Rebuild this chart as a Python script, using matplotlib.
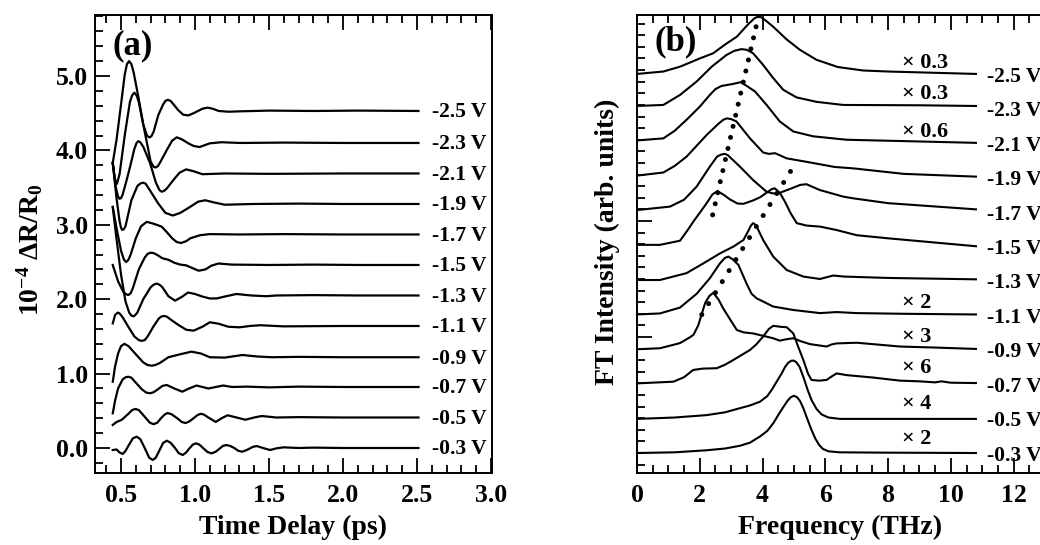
"""Time-domain reflectivity traces and their FT spectra at several bias voltages."""

import matplotlib

matplotlib.use("Agg")
import matplotlib.pyplot as plt
from matplotlib.ticker import FixedLocator, MultipleLocator, FormatStrFormatter

plt.rcParams["font.family"] = ["Liberation Serif", "DejaVu Serif"]
plt.rcParams["font.weight"] = "bold"
plt.rcParams["mathtext.fontset"] = "custom"
plt.rcParams["mathtext.rm"] = "Liberation Serif:bold"
plt.rcParams["mathtext.it"] = "Liberation Serif:bold"
plt.rcParams["mathtext.bf"] = "Liberation Serif:bold"

# ---- panel (a): dR/R traces, offset per bias ----
bias_labels = ["-2.5 V", "-2.3 V", "-2.1 V", "-1.9 V", "-1.7 V", "-1.5 V",
               "-1.3 V", "-1.1 V", "-0.9 V", "-0.7 V", "-0.5 V", "-0.3 V"]
time_levels = [4.53, 4.10, 3.69, 3.28, 2.87, 2.46, 2.05, 1.64, 1.22, 0.82, 0.41, 0.0]

t_25 = [0.444, 0.47, 0.50, 0.525, 0.54, 0.554, 0.57, 0.585, 0.617, 0.65, 0.675, 0.69, 0.705, 0.72,
        0.752, 0.785, 0.80, 0.817, 0.835, 0.85, 0.887, 0.92, 0.955, 0.99, 1.02, 1.05, 1.085, 1.12,
        1.16, 1.225, 1.3, 1.5, 1.8, 2.1, 2.51]
r_25 = [3.83, 4.15, 4.62, 5.02, 5.16, 5.20, 5.16, 5.05, 4.72, 4.35, 4.20, 4.175, 4.19, 4.25,
        4.476, 4.62, 4.665, 4.68, 4.665, 4.63, 4.54, 4.48, 4.47, 4.50, 4.53, 4.56, 4.575, 4.56,
        4.53, 4.52, 4.525, 4.535, 4.53, 4.535, 4.53]
t_23 = [0.444, 0.458, 0.472, 0.49, 0.51, 0.527, 0.56, 0.575, 0.59, 0.605, 0.62, 0.662, 0.70,
        0.72, 0.734, 0.75, 0.77, 0.809, 0.845, 0.876, 0.91, 0.955, 0.99, 1.03, 1.065, 1.10, 1.18,
        1.3, 1.6, 2.0, 2.51]
r_23 = [3.83, 3.62, 3.55, 3.68, 3.98, 4.23, 4.65, 4.74, 4.776, 4.74, 4.65, 4.23, 3.85,
        3.78, 3.77, 3.79, 3.86, 4.005, 4.13, 4.176, 4.15, 4.095, 4.06, 4.045, 4.07, 4.095, 4.11,
        4.10, 4.105, 4.10, 4.10]
t_21 = [0.444, 0.465, 0.478, 0.489, 0.50, 0.51, 0.535, 0.561, 0.59, 0.605, 0.617, 0.63, 0.65,
        0.696, 0.735, 0.76, 0.775, 0.79, 0.81, 0.853, 0.895, 0.94, 0.99, 1.05, 1.2, 1.5, 2.0, 2.51]
r_21 = [3.83, 3.50, 3.39, 3.35, 3.36, 3.40, 3.58, 3.78, 4.02, 4.10, 4.125, 4.11, 4.05,
        3.83, 3.57, 3.465, 3.445, 3.455, 3.49, 3.60, 3.70, 3.745, 3.72, 3.68, 3.69, 3.685, 3.69,
        3.69]
t_19 = [0.444, 0.47, 0.49, 0.50, 0.508, 0.518, 0.53, 0.57, 0.61, 0.63, 0.648, 0.665, 0.69, 0.75,
        0.80, 0.85, 0.90, 0.966, 1.02, 1.068, 1.13, 1.2, 1.4, 1.7, 2.0, 2.51]
r_19 = [3.83, 3.35, 3.05, 2.96, 2.93, 2.94, 2.98, 3.33, 3.52, 3.555, 3.566, 3.555, 3.48, 3.29,
        3.16, 3.125, 3.16, 3.24, 3.31, 3.33, 3.30, 3.27, 3.28, 3.285, 3.28, 3.28]
t_17 = [0.444, 0.47, 0.50, 0.52, 0.535, 0.55, 0.565, 0.60, 0.635, 0.674, 0.71, 0.741, 0.775,
        0.81, 0.845, 0.875, 0.905, 0.94, 0.97, 1.034, 1.1, 1.3, 1.6, 2.0, 2.51]
r_17 = [3.24, 2.95, 2.65, 2.53, 2.50, 2.53, 2.60, 2.82, 2.98, 3.04, 3.02, 3.0, 2.975,
        2.90, 2.82, 2.77, 2.755, 2.78, 2.82, 2.86, 2.875, 2.87, 2.875, 2.87, 2.87]
t_15 = [0.444, 0.48, 0.515, 0.535, 0.549, 0.565, 0.58, 0.62, 0.66, 0.68, 0.70, 0.72, 0.74, 0.78,
        0.82, 0.86, 0.90, 0.94, 0.98, 1.025, 1.07, 1.11, 1.158, 1.25, 1.5, 1.8, 2.1, 2.51]
r_15 = [2.46, 2.24, 2.10, 2.065, 2.056, 2.08, 2.15, 2.40, 2.56, 2.61, 2.625, 2.62, 2.60, 2.55,
        2.53, 2.49, 2.465, 2.455, 2.42, 2.383, 2.40, 2.45, 2.48, 2.465, 2.46, 2.465, 2.46, 2.46]
t_13 = [0.444, 0.47, 0.50, 0.53, 0.555, 0.57, 0.583, 0.595, 0.61, 0.65, 0.70, 0.72, 0.741, 0.76,
        0.78, 0.82, 0.865, 0.91, 0.953, 1.0, 1.05, 1.10, 1.146, 1.21, 1.28, 1.38, 1.48, 1.55, 1.8,
        2.1, 2.51]
r_13 = [3.24, 2.80, 2.33, 1.97, 1.82, 1.78, 1.77, 1.785, 1.82, 2.00, 2.16, 2.195, 2.21, 2.195,
        2.16, 2.04, 1.98, 2.03, 2.09, 2.07, 2.035, 2.01, 2.01, 2.04, 2.07, 2.05, 2.04, 2.05, 2.055,
        2.05, 2.05]
t_11 = [0.444, 0.46, 0.478, 0.49, 0.51, 0.549, 0.59, 0.62, 0.64, 0.66, 0.68, 0.718, 0.755,
        0.775, 0.793, 0.81, 0.84, 0.887, 0.94, 0.99, 1.05, 1.10, 1.16, 1.225, 1.30, 1.37, 1.44,
        1.6, 2.0, 2.51]
r_11 = [1.675, 1.79, 1.82, 1.81, 1.76, 1.63, 1.50, 1.45, 1.44, 1.45, 1.50, 1.63, 1.74,
        1.77, 1.774, 1.765, 1.72, 1.655, 1.59, 1.577, 1.63, 1.69, 1.67, 1.63, 1.622, 1.64, 1.65,
        1.635, 1.64, 1.64]
t_09 = [0.444, 0.46, 0.48, 0.50, 0.523, 0.55, 0.60, 0.65, 0.68, 0.707, 0.73, 0.76, 0.82, 0.90,
        0.976, 1.04, 1.1, 1.2, 1.32, 1.42, 1.52, 1.7, 2.0, 2.3, 2.51]
r_09 = [0.89, 1.10, 1.27, 1.37, 1.40, 1.37, 1.26, 1.15, 1.115, 1.106, 1.115, 1.14, 1.22, 1.26,
        1.295, 1.27, 1.22, 1.215, 1.25, 1.23, 1.22, 1.225, 1.22, 1.22, 1.22]
t_07 = [0.444, 0.46, 0.48, 0.51, 0.53, 0.549, 0.57, 0.59, 0.64, 0.67, 0.696, 0.72, 0.75, 0.78,
        0.809, 0.86, 0.914, 0.96, 1.01, 1.05, 1.09, 1.14, 1.19, 1.25, 1.35, 1.5, 1.7, 2.0, 2.51]
r_07 = [0.466, 0.64, 0.80, 0.92, 0.95, 0.958, 0.945, 0.90, 0.79, 0.745, 0.735, 0.75, 0.79, 0.835,
        0.847, 0.80, 0.757, 0.80, 0.84, 0.82, 0.80, 0.82, 0.84, 0.82, 0.825, 0.815, 0.825, 0.82,
        0.82]
t_05 = [0.444, 0.47, 0.504, 0.55, 0.575, 0.597, 0.62, 0.66, 0.695, 0.72, 0.745, 0.77, 0.795,
        0.815, 0.84, 0.88, 0.91, 0.935, 0.96, 0.99, 1.015, 1.037, 1.06, 1.09, 1.14, 1.18, 1.22,
        1.28, 1.34, 1.40, 1.45, 1.55, 1.7, 2.0, 2.51]
r_05 = [0.31, 0.35, 0.378, 0.46, 0.51, 0.525, 0.51, 0.42, 0.34, 0.32, 0.34, 0.40, 0.45,
        0.47, 0.455, 0.40, 0.35, 0.335, 0.355, 0.40, 0.44, 0.46, 0.45, 0.41, 0.35, 0.40, 0.44,
        0.41, 0.38, 0.41, 0.43, 0.41, 0.415, 0.41, 0.41]
t_03 = [0.444, 0.47, 0.49, 0.511, 0.53, 0.55, 0.58, 0.606, 0.63, 0.66, 0.69, 0.714, 0.735, 0.76,
        0.785, 0.81, 0.835, 0.865, 0.89, 0.917, 0.94, 0.96, 0.985, 1.007, 1.03, 1.06, 1.085,
        1.113, 1.14, 1.165, 1.19, 1.214, 1.24, 1.265, 1.29, 1.316, 1.34, 1.367, 1.39, 1.417,
        1.46, 1.507, 1.55, 1.597, 1.7, 1.8, 2.0, 2.2, 2.51]
r_03 = [-0.027, -0.02, -0.06, -0.08, -0.04, 0.03, 0.13, 0.152, 0.12, 0.0, -0.13, -0.161, -0.13,
        -0.03, 0.07, 0.098, 0.07, 0.0, -0.07, -0.094, -0.06, -0.01, 0.045, 0.063, 0.045, -0.01,
        -0.055, -0.072, -0.05, -0.01, 0.03, 0.04, 0.025, 0.0, -0.035, -0.05, -0.035, -0.01,
        0.015, 0.026, 0.0, -0.027, -0.005, 0.009, 0.0, 0.005, 0.0, 0.0, 0.0]

# ---- panel (b): FT spectra, offset by one unit per bias ----
spec_levels = [11, 10, 9, 8, 7, 6, 5, 4, 3, 2, 1, 0]
scale_labels = ["× 0.3", "× 0.3", "× 0.6", "", "", "", "", "× 2", "× 3", "× 6", "× 4", "× 2"]
scale_levels = [11.32, 10.42, 9.32, None, None, None, None, 4.35, 3.37, 2.47, 1.42, 0.41]

f_25 = [0.0, 0.84, 1.37, 2.0, 2.43, 2.8, 3.18, 3.55, 3.75, 3.9, 4.1, 4.34, 4.77, 5.19, 5.72,
        6.4, 7.2, 8.0, 10.8]
s_25 = [11.0, 11.07, 11.21, 11.45, 11.6, 11.85, 12.08, 12.45, 12.62, 12.68, 12.55, 12.37, 12.0,
        11.70, 11.41, 11.2, 11.1, 11.07, 11.0]
f_23 = [0.0, 0.84, 1.37, 1.9, 2.38, 2.85, 3.1, 3.33, 3.5, 3.7, 4.02, 4.34, 4.66, 5.08, 5.72,
        6.57, 9.0, 10.8]
s_23 = [10.07, 10.1, 10.39, 10.78, 11.21, 11.55, 11.67, 11.72, 11.7, 11.6, 11.26, 10.88, 10.54,
        10.32, 10.19, 10.1, 10.09, 10.07]
f_21 = [0.0, 0.84, 1.2, 1.58, 2.0, 2.32, 2.5, 2.69, 3.06, 3.3, 3.5, 3.76, 4.13, 4.55, 4.98,
        5.61, 6.68, 9.0, 10.8]
s_21 = [9.07, 9.13, 9.35, 9.67, 10.05, 10.39, 10.56, 10.65, 10.71, 10.76, 10.65, 10.49, 10.10,
        9.62, 9.33, 9.19, 9.09, 9.04, 9.0]
f_19 = [0.0, 0.84, 1.2, 1.58, 2.22, 2.59, 2.75, 2.86, 3.0, 3.17, 3.6, 4.02, 4.2, 4.4, 4.77, 5.4,
        6.3, 6.89, 8.5, 10.8]
s_19 = [8.05, 8.14, 8.33, 8.6, 9.23, 9.55, 9.67, 9.71, 9.69, 9.62, 9.13, 8.72, 8.68, 8.7, 8.55,
        8.45, 8.3, 8.26, 8.1, 8.02]
f_17 = [0.0, 1.05, 1.5, 1.9, 2.32, 2.55, 2.68, 2.8, 2.9, 3.0, 3.28, 3.7, 4.13, 4.35, 4.55, 4.98,
        5.2, 5.4, 5.6, 5.83, 6.57, 6.89, 8.0, 10.8]
s_17 = [7.05, 7.15, 7.35, 7.73, 8.31, 8.6, 8.66, 8.68, 8.64, 8.55, 8.31, 7.92, 7.58, 7.53, 7.55,
        7.7, 7.78, 7.8, 7.72, 7.63, 7.44, 7.39, 7.25, 7.07]
f_15 = [0.0, 0.73, 1.37, 1.6, 1.8, 2.22, 2.4, 2.56, 2.75, 2.96, 3.2, 3.39, 3.7, 3.92, 4.2, 4.3,
        4.39, 4.55, 4.71, 4.9, 5.09, 5.4, 5.83, 6.36, 7.0, 8.0, 10.8]
s_15 = [6.04, 6.04, 6.16, 6.45, 6.72, 7.25, 7.5, 7.6, 7.5, 7.36, 7.24, 7.23, 7.33, 7.42, 7.6,
        7.66, 7.68, 7.55, 7.3, 6.95, 6.67, 6.6, 6.57, 6.47, 6.32, 6.23, 6.0]
f_13 = [0.0, 0.73, 1.58, 2.11, 2.64, 3.07, 3.39, 3.55, 3.63, 3.7, 3.78, 3.85, 4.02, 4.34, 4.77,
        5.3, 5.83, 6.25, 6.6, 8.0, 10.8]
s_13 = [5.02, 5.02, 5.22, 5.5, 5.79, 5.99, 6.18, 6.45, 6.6, 6.67, 6.62, 6.5, 6.18, 5.70, 5.31,
        5.12, 5.05, 5.15, 5.12, 5.08, 5.04]
f_11 = [0.0, 0.73, 1.37, 1.9, 2.32, 2.64, 2.8, 2.91, 3.05, 3.23, 3.49, 3.65, 3.81, 4.34, 4.98,
        5.83, 6.36, 7.0, 8.5, 10.8]
s_11 = [4.02, 4.05, 4.22, 4.62, 5.07, 5.50, 5.66, 5.70, 5.62, 5.46, 4.92, 4.62, 4.49, 4.25, 4.15,
        4.06, 4.09, 4.06, 4.04, 4.02]
f_09 = [0.0, 0.73, 1.16, 1.37, 1.69, 1.8, 1.95, 2.17, 2.3, 2.43, 2.6, 2.75, 2.95, 3.18, 3.4, 3.7,
        4.02, 4.34, 4.55, 4.75, 4.98, 5.2, 5.51, 6.04, 6.2, 6.36, 7.0, 8.38, 9.5, 10.8]
s_09 = [3.01, 3.04, 3.14, 3.19, 3.36, 3.43, 3.7, 4.35, 4.55, 4.65, 4.45, 4.19, 3.9, 3.57, 3.5,
        3.47, 3.4, 3.33, 3.26, 3.3, 3.33, 3.25, 3.16, 3.09, 3.15, 3.18, 3.2, 3.09, 3.06, 3.02]
f_07 = [0.0, 1.16, 1.5, 1.79, 2.1, 2.54, 2.8, 3.07, 3.6, 3.8, 4.02, 4.2, 4.34, 4.6, 4.77, 4.98,
        5.15, 5.3, 5.45, 5.56, 5.8, 6.04, 6.2, 6.36, 6.68, 7.52, 8.38, 9.0, 9.5, 9.7, 10.0, 10.8]
s_07 = [2.02, 2.07, 2.2, 2.41, 2.45, 2.46, 2.56, 2.70, 2.99, 3.15, 3.38, 3.6, 3.69, 3.66, 3.65,
        3.47, 3.05, 2.70, 2.3, 2.12, 2.10, 2.12, 2.22, 2.31, 2.26, 2.19, 2.10, 2.08, 2.05, 2.08,
        2.04, 2.03]
f_05 = [0.0, 1.2, 2.22, 2.8, 3.28, 3.6, 3.92, 4.15, 4.29, 4.45, 4.61, 4.72, 4.82, 4.92, 5.0,
        5.08, 5.18, 5.3, 5.43, 5.56, 5.72, 5.88, 6.1, 6.46, 10.8]
s_05 = [0.99, 1.03, 1.10, 1.18, 1.30, 1.38, 1.49, 1.65, 1.83, 2.07, 2.31, 2.5, 2.62, 2.68, 2.68,
        2.63, 2.5, 2.21, 1.85, 1.54, 1.28, 1.12, 1.03, 0.99, 0.99]
f_03 = [0.0, 1.2, 2.22, 2.8, 3.28, 3.6, 3.92, 4.15, 4.34, 4.5, 4.66, 4.8, 4.9, 5.0, 5.1, 5.2,
        5.3, 5.43, 5.56, 5.68, 5.8, 5.92, 6.1, 6.46, 8.0, 10.8]
s_03 = [0.0, 0.02, 0.08, 0.13, 0.21, 0.3, 0.48, 0.64, 0.86, 1.1, 1.33, 1.52, 1.62, 1.66, 1.62,
        1.5, 1.30, 0.98, 0.67, 0.42, 0.24, 0.12, 0.05, 0.02, 0.01, 0.0]

# dotted guides through the two phonon branches (end points)
guide_low_f = [3.875, 2.41]
guide_low_s = [12.69, 6.91]
guide_high_f = [4.89, 1.85]
guide_high_s = [8.17, 3.70]

time_traces = [(t_25, r_25), (t_23, r_23), (t_21, r_21), (t_19, r_19), (t_17, r_17), (t_15, r_15),
               (t_13, r_13), (t_11, r_11), (t_09, r_09), (t_07, r_07), (t_05, r_05), (t_03, r_03)]
spectra = [(f_25, s_25), (f_23, s_23), (f_21, s_21), (f_19, s_19), (f_17, s_17), (f_15, s_15),
           (f_13, s_13), (f_11, s_11), (f_09, s_09), (f_07, s_07), (f_05, s_05), (f_03, s_03)]

W, H = 1040, 545
fig = plt.figure(figsize=(W / 100, H / 100), dpi=100)


def px_axes(left, top, right, bottom):
    return fig.add_axes([left / W, 1 - bottom / H, (right - left) / W, (bottom - top) / H])


def style_axes(ax):
    for sp in ax.spines.values():
        sp.set_linewidth(1.4)
    ax.tick_params(which="both", direction="in", top=True, right=False, width=1.3,
                   labelsize=18.5)
    ax.tick_params(which="major", length=11)
    ax.tick_params(which="minor", length=6)
    ax.tick_params(axis="x", pad=8)
    ax.tick_params(axis="y", pad=5)


# panel (a)
ax1 = px_axes(95, 15, 492, 473)
for (t, r), lab, lev in zip(time_traces, bias_labels, time_levels):
    ax1.plot(t, r, color="black", lw=1.6, solid_joinstyle="round")
    ax1.text(2.60, lev - 0.02, lab, ha="left", va="center", fontsize=15.5)
ax1.set_xlim(0.324, 3.007)
ax1.set_ylim(-0.336, 5.82)
ax1.xaxis.set_major_locator(MultipleLocator(0.5))
ax1.xaxis.set_minor_locator(MultipleLocator(0.1))
ax1.yaxis.set_major_locator(MultipleLocator(1.0))
ax1.yaxis.set_minor_locator(MultipleLocator(0.2))
ax1.xaxis.set_major_formatter(FormatStrFormatter("%.1f"))
ax1.yaxis.set_major_formatter(FormatStrFormatter("%.1f"))
style_axes(ax1)
ax1.text(0.44, 5.40, "(a)", ha="left", va="center", fontsize=25)

# panel (b)
ax2 = px_axes(637, 15, 1045, 473)
for (f, s), lab, lev in zip(spectra, bias_labels, spec_levels):
    ax2.plot(f, s, color="black", lw=1.5, solid_joinstyle="round")
    ax2.text(11.15, lev - 0.08, lab, ha="left", va="center", fontsize=15.5)
for lab, lev in zip(scale_labels, scale_levels):
    if lab:
        ax2.text(8.45, lev, lab, ha="left", va="center", fontsize=16)
ax2.plot(guide_low_f, guide_low_s, color="black", lw=3.6, dash_capstyle="round",
         linestyle=(0, (0.001, 2.27)))
ax2.plot(guide_high_f, guide_high_s, color="black", lw=3.6, dash_capstyle="round",
         linestyle=(0, (0.001, 2.59)))
ax2.set_xlim(0, 13)
ax2.set_ylim(-0.58, 12.71)
ax2.xaxis.set_major_locator(MultipleLocator(2))
ax2.xaxis.set_minor_locator(MultipleLocator(0.5))
ax2.yaxis.set_major_locator(FixedLocator([3.367, 6.734]))
ax2.yaxis.set_minor_locator(MultipleLocator(0.3367))
ax2.set_yticklabels([])
style_axes(ax2)
ax2.text(0.57, 11.93, "(b)", ha="left", va="center", fontsize=25)

fig.text(293 / W, 1 - 527 / H, "Time Delay (ps)", ha="center", va="center", fontsize=20)
fig.text(840 / W, 1 - 527 / H, "Frequency (THz)", ha="center", va="center", fontsize=20)
fig.text(30 / W, 1 - 250 / H, r"10$^{-4}$ ΔR/R$_0$", ha="center", va="center",
         rotation=90, fontsize=20)
fig.text(607 / W, 1 - 242 / H, "FT Intensity (arb. units)", ha="center", va="center",
         rotation=90, fontsize=20)

fig.savefig("out.png", dpi=100)
